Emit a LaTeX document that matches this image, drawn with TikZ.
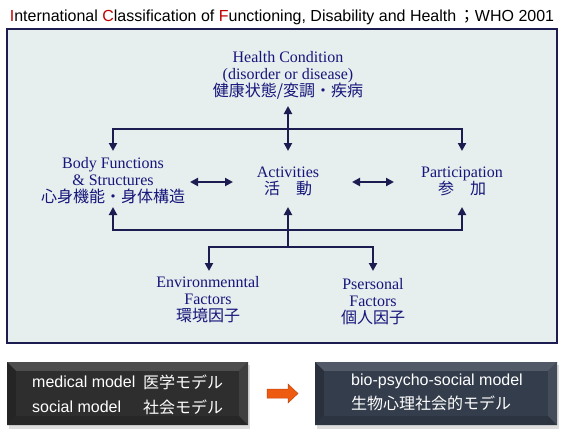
\documentclass[tikz,border=0pt]{standalone}
\usepackage{fontspec}
\setmainfont{Liberation Serif}
\newfontfamily\sansf{Liberation Sans}
\newfontfamily\cjk{Noto Sans CJK JP}
\usetikzlibrary{arrows.meta}
\definecolor{navy}{HTML}{1C1C50}
\definecolor{txtblue}{HTML}{16167A}
\definecolor{panel}{HTML}{E7EEEE}
\definecolor{titlered}{HTML}{C00000}
\definecolor{orng}{HTML}{EE5A10}
\definecolor{lbase}{HTML}{2E2E2E}
\definecolor{rbase}{HTML}{343D4C}
\tikzset{
  lbl/.style={text=txtblue, align=center, font=\fontsize{16}{17}\selectfont, inner sep=0pt},
  conn/.style={draw=navy, line width=2.2pt},
  tip/.style={-{Triangle[length=8pt,width=8pt]}},
  dtip/.style={{Triangle[length=8pt,width=8pt]}-{Triangle[length=8pt,width=8pt]}},
  boxtxt/.style={text=white, font=\sansf\fontsize{16}{18}\selectfont, inner sep=0pt, anchor=west},
  boxcjk/.style={text=white, font=\cjk\fontsize{16}{18}\selectfont, inner sep=0pt, anchor=west},
}
\newcommand{\bevelbox}[6]{% x1 y1 x2 y2 basecolor name
  \fill[black!25, opacity=0.5] (#1+2,#2+3) rectangle (#3+2,#4+4);
  \fill[#5] (#1,#2) rectangle (#3,#4);
  \fill[#5!85!white] (#1,#2) -- (#3,#2) -- (#3-9,#2+9) -- (#1+9,#2+9) -- cycle;
  \fill[#5!80!black] (#1,#2) -- (#1+9,#2+9) -- (#1+9,#4-9) -- (#1,#4) -- cycle;
  \fill[#5!92!white] (#3,#2) -- (#3,#4) -- (#3-9,#4-9) -- (#3-9,#2+9) -- cycle;
  \fill[#5!85!black] (#1,#4) -- (#3,#4) -- (#3-9,#4-9) -- (#1+9,#4-9) -- cycle;
  \fill[#5] (#1+9,#2+9) rectangle (#3-9,#4-9);
  \coordinate (#6) at ({(#1+#3)/2},{(#2+#4)/2});
}
\begin{document}
\begin{tikzpicture}[x=1pt,y=-1pt]
\useasboundingbox (0,0) rectangle (564,437);
\fill[white] (0,0) rectangle (564,437);
% title
\node[font=\sansf\fontsize{16}{18}\selectfont, inner sep=0pt, text=black] (title) at (282,17)
  {\textcolor{titlered}{I}nternational \textcolor{titlered}{C}lassification of \textcolor{titlered}{F}unctioning, Disability and Health\,{\cjk ；}WHO 2001};
% panel
\draw[navy, line width=2pt, fill=panel] (7,29) rectangle (557,343);
% nodes
\node[lbl] (hc) at (288,75) {Health Condition\\(disorder or disease)\\{\cjk 健康状態/変調・疾病}};
\node[lbl] (bf) at (113,181) {Body Functions\\\& Structures\\{\cjk 心身機能・身体構造}};
\node[lbl] (act) at (288,181) {Activities\\{\cjk 活　動}};
\node[lbl] (par) at (462,181) {Participation\\{\cjk 参　加}};
\node[lbl] (env) at (208,300) {Environmenntal\\Factors\\{\cjk 環境因子}};
\node[lbl] (per) at (373,302) {Psersonal\\Factors\\{\cjk 個人因子}};
% junction coordinates
\coordinate (hcb) at (288,106);
\coordinate (topj) at (288,129);
\coordinate (tl) at (113,129);
\coordinate (tr) at (462,129);
\coordinate (bft) at (113,151);
\coordinate (actt) at (288,151);
\coordinate (part) at (462,151);
\coordinate (bfb) at (113,207);
\coordinate (actb) at (288,207);
\coordinate (parb) at (462,207);
\coordinate (bl) at (113,230);
\coordinate (br) at (462,230);
\coordinate (botj) at (288,247);
\coordinate (el) at (209,247);
\coordinate (pr) at (373,247);
\coordinate (envt) at (209,271);
\coordinate (pert) at (373,271);
\coordinate (a1) at (190,182);
\coordinate (a2) at (233,182);
\coordinate (a3) at (352,182);
\coordinate (a4) at (394,182);
% connectors
\draw[conn,dtip] (hcb) -- (actt);
\draw[conn,tip] (topj) -- (tl) -- (bft);
\draw[conn,tip] (topj) -- (tr) -- (part);
\draw[conn,dtip] (a1) -- (a2);
\draw[conn,dtip] (a3) -- (a4);
\draw[conn,tip] (botj) -- (actb);
\draw[conn,tip] (br) -- (bl) -- (bfb);
\draw[conn,tip] (bl) -- (br) -- (parb);
\draw[conn,tip] (botj) -- (el) -- (envt);
\draw[conn,tip] (botj) -- (pr) -- (pert);
% bottom boxes
\bevelbox{7}{362}{248}{425}{lbase}{lbox}
\bevelbox{315}{362}{557}{425}{rbase}{rbox}
\node[boxtxt] (m1) at (32,382) {medical model};
\node[boxcjk] (m1j) at (143,382) {医学モデル};
\node[boxtxt] (m2) at (32,407) {social model};
\node[boxcjk] (m2j) at (143,407) {社会モデル};
\node[boxtxt] (m3) at (351,381) {bio-psycho-social model};
\node[boxcjk] (m4) at (351,403) {生物心理社会的モデル};
% orange arrow
\draw[orng!80!black, line width=0.5pt, fill=orng] (267,389) -- (288,389) -- (288,384) -- (298,393.5) -- (288,403) -- (288,398) -- (267,398) -- cycle;
\end{tikzpicture}
\end{document}
